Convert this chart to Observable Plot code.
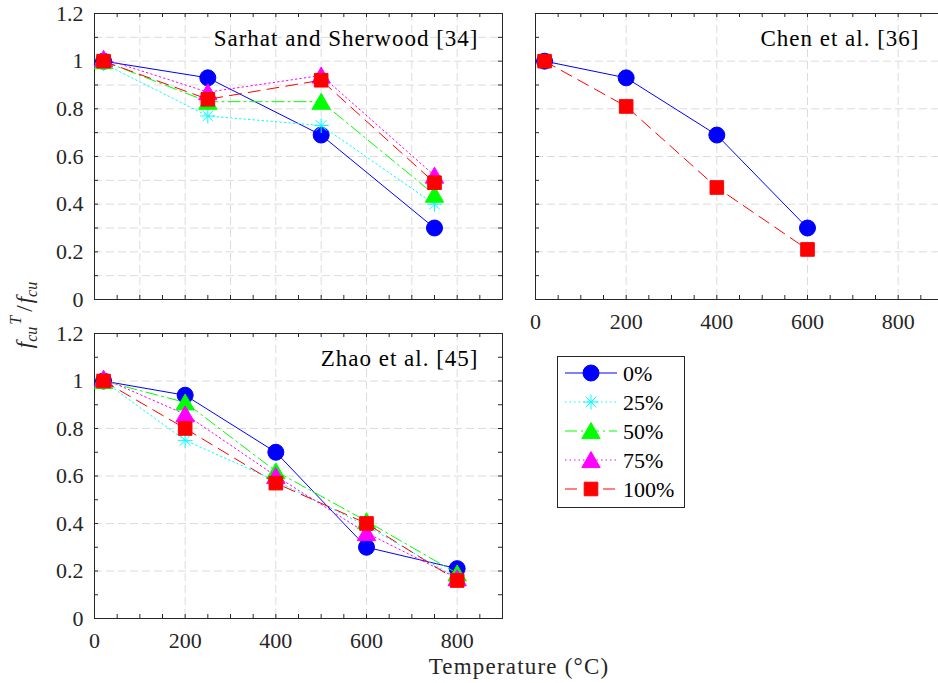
<!DOCTYPE html>
<html><head><meta charset="utf-8">
<script src="https://cdn.jsdelivr.net/npm/d3@7"></script>
<script src="https://cdn.jsdelivr.net/npm/@observablehq/plot@0.6"></script>
<style>
html,body{margin:0;padding:0;background:#fff;overflow:hidden;}
#chart{position:relative;width:938px;height:683px;overflow:hidden;font-family:"Liberation Serif",serif;}
#chart > svg{position:absolute;left:0;top:0;max-width:none !important;}
#chart svg text{font-family:"Liberation Serif",serif !important;}
</style></head><body><div id="chart"></div>
<script>
// ---------- data ----------
const seriesLabels = ["0%", "25%", "50%", "75%", "100%"];
const seriesColors = ["#0000ff", "#00ffff", "#00ff00", "#ff00ff", "#ff0000"];

const sarhatTemps = [20, 250, 500, 750];
const sarhat0   = [1.00, 0.93, 0.69, 0.30];
const sarhat25  = [0.99, 0.77, 0.73, 0.40];
const sarhat50  = [1.00, 0.83, 0.83, 0.44];
const sarhat75  = [1.01, 0.87, 0.94, 0.52];
const sarhat100 = [1.00, 0.84, 0.92, 0.49];

const chenTemps = [20, 200, 400, 600];
const chen0   = [1.00, 0.93, 0.69, 0.30];
const chen100 = [1.00, 0.81, 0.47, 0.21];

const zhaoTemps = [20, 200, 400, 600, 800];
const zhao0   = [1.00, 0.94, 0.70, 0.30, 0.21];
const zhao25  = [1.00, 0.75, 0.58, 0.39, 0.17];
const zhao50  = [1.00, 0.91, 0.62, 0.41, 0.19];
const zhao75  = [1.01, 0.86, 0.60, 0.36, 0.17];
const zhao100 = [1.00, 0.80, 0.57, 0.40, 0.16];

const yTickValues = [0, 0.2, 0.4, 0.6, 0.8, 1, 1.2];
const xTickValues = [0, 200, 400, 600, 800];

const titles = ["Sarhat and Sherwood [34]", "Chen et al. [36]", "Zhao et al. [45]"];
const xAxisTitle = "Temperature (°C)";

// ---------- styles ----------
const seriesDash = [null, "1.5,3", "12,4,2,4", "1.5,3", "12,7"];
const axisColor = "#262626";
const gridColor = "#dcdcdc";
const FONT = "Liberation Serif";
const FS = 22;      // tick labels, legend
const FS_T = 23;    // titles

const symCircle = {draw(c, s){const r = Math.sqrt(s/Math.PI); c.moveTo(r,0); c.arc(0,0,r,0,2*Math.PI);}};
const symSquare = {draw(c, s){const r = Math.sqrt(s/Math.PI)*0.85; c.rect(-r,-r,2*r,2*r);}};
const symTriangle = {draw(c, s){const r = Math.sqrt(s/Math.PI); c.moveTo(0,-r*1.05); c.lineTo(r*1.15,r*0.95); c.lineTo(-r*1.15,r*0.95); c.closePath();}};
const symAsterisk = {draw(c, s){const r = Math.sqrt(s/Math.PI); const d = r*Math.SQRT1_2;
  c.moveTo(0,-r); c.lineTo(0,r); c.moveTo(-r,0); c.lineTo(r,0);
  c.moveTo(-d,-d); c.lineTo(d,d); c.moveTo(-d,d); c.lineTo(d,-d);}};
const seriesSymbols = [symCircle, symAsterisk, symTriangle, symTriangle, symSquare];
const seriesR = [8, 7.5, 8, 8, 8];
const seriesFilled = [true, false, true, true, true];

const W = 950, H = 683;
const chart = document.getElementById("chart");

function panel({temps, series, title, left, top, fw, fh, minorGrid, showY, showX}) {
  const ticksX = d3.range(0, 901, 50);
  const ticksY = d3.range(0, 13).map(i => i/10);
  const gX = minorGrid ? d3.range(100, 900, 100) : [200, 400, 600, 800];
  const gY = minorGrid ? d3.range(1, 12).map(i => i/10) : [0.2, 0.4, 0.6, 0.8, 1.0];
  const tl = 4;
  const marks = [
    Plot.gridX(gX, {stroke: gridColor, strokeOpacity: 1, strokeDasharray: "8,4"}),
    Plot.gridY(gY, {stroke: gridColor, strokeOpacity: 1, strokeDasharray: "8,4"}),
    Plot.ruleX(ticksX, {stroke: axisColor, insetTop: fh - tl}),
    Plot.ruleX(ticksX, {stroke: axisColor, insetBottom: fh - tl}),
    Plot.ruleY(ticksY, {stroke: axisColor, insetRight: fw - tl}),
    Plot.ruleY(ticksY, {stroke: axisColor, insetLeft: fw - tl}),
    Plot.frame({stroke: axisColor, strokeWidth: 1})
  ];
  if (showY) marks.push(Plot.axisY(yTickValues, {anchor: "left", tickSize: 0, tickPadding: 11, tickFormat: d => String(d), fontSize: FS, fontFamily: FONT, fill: axisColor, label: null}));
  if (showX) marks.push(Plot.axisX(xTickValues, {anchor: "bottom", tickSize: 0, tickPadding: 14, tickFormat: d => String(d), fontSize: FS, fontFamily: FONT, fill: axisColor, label: null}));
  marks.push(Plot.text([title], {text: d => d, frameAnchor: "top-right", textAnchor: "end", lineAnchor: "top", dx: -24, dy: 16, fontSize: FS_T, fontFamily: FONT, fill: "#000"}));
  for (const [idx, vals] of series) {
    const rows = temps.map((t, i) => ({t, v: vals[i]}));
    marks.push(Plot.line(rows, {x: "t", y: "v", stroke: seriesColors[idx], strokeWidth: 1, strokeDasharray: seriesDash[idx] || undefined}));
    marks.push(Plot.dot(rows, {x: "t", y: "v", r: seriesR[idx], symbol: seriesSymbols[idx],
      fill: seriesFilled[idx] ? seriesColors[idx] : "none", stroke: seriesColors[idx], strokeWidth: 1}));
  }
  const p = Plot.plot({
    width: W, height: H,
    marginLeft: left, marginTop: top, marginRight: W - left - fw, marginBottom: H - top - fh,
    x: {domain: [0, 900], axis: null},
    y: {domain: [0, 1.2], axis: null},
    style: {fontFamily: FONT, fontSize: FS + "px", background: "transparent", overflow: "visible", maxWidth: "none"},
    marks
  });
  p.style.maxWidth = "none";
  p.style.width = W + "px";
  p.style.height = H + "px";
  d3.select(p).selectAll("text").filter(function(){ return this.textContent === title; })
    .style("letter-spacing", "1px");
  chart.appendChild(p);
}

panel({temps: sarhatTemps, series: [[0, sarhat0], [1, sarhat25], [2, sarhat50], [3, sarhat75], [4, sarhat100]],
  title: titles[0], left: 94, top: 13, fw: 408, fh: 286, minorGrid: true, showY: true, showX: false});
panel({temps: chenTemps, series: [[0, chen0], [4, chen100]],
  title: titles[1], left: 535, top: 13, fw: 408, fh: 286, minorGrid: false, showY: false, showX: true});
panel({temps: zhaoTemps, series: [[0, zhao0], [1, zhao25], [2, zhao50], [3, zhao75], [4, zhao100]],
  title: titles[2], left: 94, top: 333, fw: 408, fh: 285, minorGrid: false, showY: true, showX: true});

// ---------- overlay: axis titles + legend ----------
const svg = d3.select(chart).append("svg").attr("width", 938).attr("height", 683)
  .style("font-family", `"${FONT}", serif`);

svg.append("text").attr("x", 519).attr("y", 674).attr("text-anchor", "middle")
  .attr("font-size", FS_T).style("letter-spacing", "1.2px").attr("fill", axisColor).text(xAxisTitle);

const yl = svg.append("text").attr("transform", "translate(32,315) rotate(-90)")
  .attr("text-anchor", "middle").attr("font-size", FS_T).attr("fill", axisColor);
yl.append("tspan").attr("font-style", "italic").text("f");
yl.append("tspan").attr("font-style", "italic").attr("font-size", 16).attr("dy", 5).text("cu");
yl.append("tspan").attr("font-style", "italic").attr("font-size", 16).attr("dy", -16).attr("dx", 2).text("T");
yl.append("tspan").attr("dy", 11).attr("dx", 4).text("/");
yl.append("tspan").attr("font-style", "italic").attr("dx", 2).text("f");
yl.append("tspan").attr("font-style", "italic").attr("font-size", 16).attr("dy", 5).text("cu");

const lg = svg.append("g");
lg.append("rect").attr("x", 557.5).attr("y", 356.5).attr("width", 127).attr("height", 151)
  .attr("fill", "#fff").attr("stroke", axisColor).attr("stroke-width", 1);
seriesLabels.forEach((lab, i) => {
  const y = 373 + i * 29;
  lg.append("line").attr("x1", 565).attr("x2", 617).attr("y1", y).attr("y2", y)
    .attr("stroke", seriesColors[i]).attr("stroke-width", 1)
    .attr("stroke-dasharray", seriesDash[i]);
  lg.append("path").attr("transform", `translate(591,${y})`)
    .attr("d", d3.symbol(seriesSymbols[i], Math.PI * seriesR[i] * seriesR[i])())
    .attr("fill", seriesFilled[i] ? seriesColors[i] : "none").attr("stroke", seriesColors[i]);
  lg.append("text").attr("x", 623).attr("y", y).attr("dy", "0.35em")
    .attr("font-size", FS).attr("fill", "#000").text(lab);
});
</script></body></html>
